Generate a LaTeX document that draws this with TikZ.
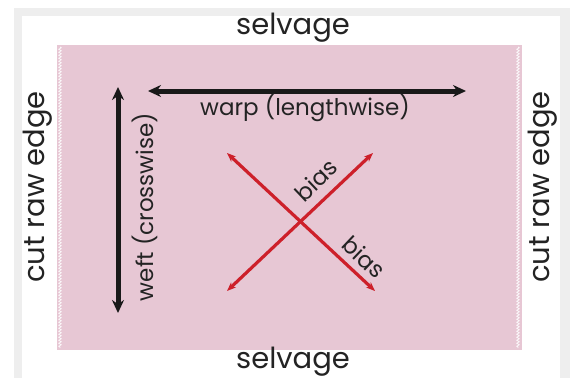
\documentclass[tikz,border=0pt]{standalone}
\usepackage{fontspec}
\setmainfont{Poppins}
\usepackage{tikz}
\usetikzlibrary{positioning,arrows.meta,decorations.pathmorphing}
\definecolor{fabric}{RGB}{231,199,212}
\definecolor{framegray}{RGB}{238,238,238}
\definecolor{biasred}{RGB}{205,32,42}
\definecolor{ink}{RGB}{35,35,35}

\begin{document}
\begin{tikzpicture}[x=1pt, y=-1pt, line width=0.6pt,
  edgelbl/.style={font=\fontsize{29}{29}\selectfont, text=ink, inner sep=0pt},
  grainlbl/.style={font=\fontsize{23}{23}\selectfont, text=ink, inner sep=0pt},
  grainarr/.style={{Stealth[length=13pt,width=12pt]}-{Stealth[length=13pt,width=12pt]}, line width=5pt, color=black!90},
  biasarr/.style={{Stealth[length=9pt,width=7pt]}-{Stealth[length=9pt,width=7pt]}, line width=3.2pt, color=biasred},
  pinking/.style={draw=white!85!fabric, line width=0.8pt, decorate, decoration={zigzag, amplitude=1.2pt, segment length=3pt}}]
\useasboundingbox (0,0) rectangle (570,378);
% ---- frame and fabric
\fill[framegray] (14,8) rectangle (570,378);
\fill[white] (22,16) rectangle (560,378);
\fill[fabric] (57,45) rectangle (522,350);
\draw[pinking] (60,47) -- (60,348);
\draw[pinking] (518,47) -- (518,348);
% ---- edge labels
\node[edgelbl] (selT) at (293,28) {selvage};
\node[edgelbl] (selB) at (293,362) {selvage};
\node[edgelbl, rotate=90] (cutL) at (38,187) {cut raw edge};
\node[edgelbl, rotate=90] (cutR) at (543,187) {cut raw edge};
% ---- grain lines
\coordinate (warpW) at (148,91);
\coordinate (warpE) at (466,91);
\coordinate (weftN) at (118,87);
\coordinate (weftS) at (118,313);
\draw[grainarr] (warpW) -- (warpE);
\draw[grainarr] (weftN) -- (weftS);
\node[grainlbl] (warp) at (305,108) {warp (lengthwise)};
\node[grainlbl, rotate=90] (weft) at (145,207) {weft (crosswise)};
% ---- bias
\coordinate (bNW) at (227,153);
\coordinate (bSE) at (375,291);
\coordinate (bSW) at (227,291);
\coordinate (bNE) at (373,153);
\draw[biasarr] (bSW) -- (bNE);
\draw[biasarr] (bNW) -- (bSE);
\node[grainlbl, rotate=43.5] (biasA) at (316,180) {bias};
\node[grainlbl, rotate=-43.5] (biasB) at (364,257) {bias};
\end{tikzpicture}
\end{document}
